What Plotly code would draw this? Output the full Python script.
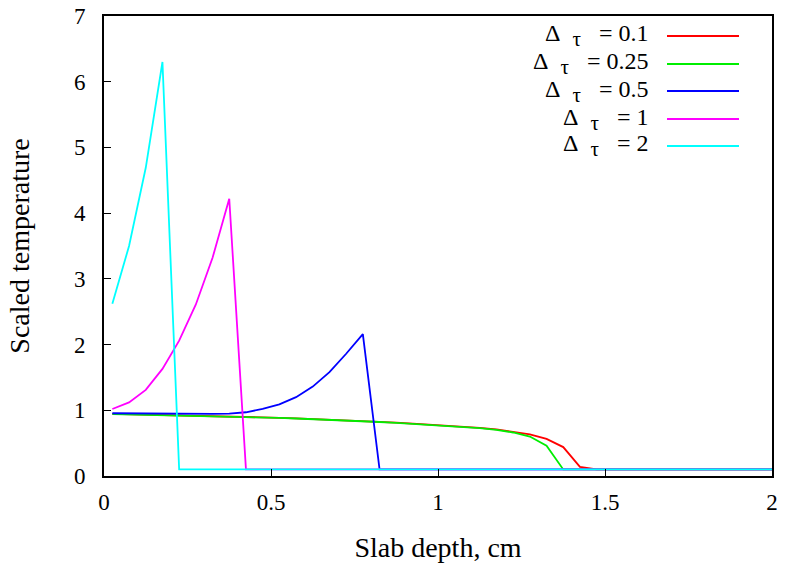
import plotly.graph_objects as go

# Slab depth grid (cm) and scaled temperature for each Delta tau
depth_01 = [0.025, 0.075, 0.125, 0.175, 0.225, 0.275, 0.325, 0.375, 0.425, 0.475,
            0.525, 0.575, 0.625, 0.675, 0.725, 0.775, 0.825, 0.875, 0.925, 0.975,
            1.025, 1.075, 1.125, 1.175, 1.225, 1.275, 1.325, 1.375, 1.425, 1.475, 2.0]
temp_01 = [0.945, 0.94, 0.935, 0.93, 0.925, 0.92, 0.915, 0.91, 0.902, 0.895,
           0.886, 0.877, 0.868, 0.858, 0.848, 0.837, 0.825, 0.812, 0.798, 0.783,
           0.768, 0.752, 0.733, 0.71, 0.677, 0.635, 0.565, 0.44, 0.14, 0.1, 0.1]

depth_025 = [0.025, 0.075, 0.125, 0.175, 0.225, 0.275, 0.325, 0.375, 0.425, 0.475,
             0.525, 0.575, 0.625, 0.675, 0.725, 0.775, 0.825, 0.875, 0.925, 0.975,
             1.025, 1.075, 1.125, 1.175, 1.225, 1.275, 1.325, 1.375, 2.0]
temp_025 = [0.943, 0.938, 0.933, 0.928, 0.923, 0.918, 0.913, 0.907, 0.9, 0.893,
            0.884, 0.875, 0.866, 0.856, 0.846, 0.835, 0.822, 0.809, 0.795, 0.78,
            0.764, 0.747, 0.728, 0.703, 0.662, 0.6, 0.46, 0.1, 0.1]

depth_05 = [0.025, 0.075, 0.125, 0.175, 0.225, 0.275, 0.325, 0.375, 0.425, 0.475,
            0.525, 0.575, 0.625, 0.675, 0.725, 0.775, 0.825, 2.0]
temp_05 = [0.955, 0.952, 0.95, 0.948, 0.946, 0.945, 0.945, 0.95, 0.97, 1.02,
           1.09, 1.2, 1.36, 1.58, 1.86, 2.16, 0.1, 0.1]

depth_1 = [0.025, 0.075, 0.125, 0.175, 0.225, 0.275, 0.325, 0.375, 0.425, 2.0]
temp_1 = [1.02, 1.12, 1.31, 1.63, 2.06, 2.61, 3.32, 4.22, 0.1, 0.1]

depth_2 = [0.025, 0.075, 0.125, 0.175, 0.225, 2.0]
temp_2 = [2.62, 3.5, 4.69, 6.3, 0.1, 0.1]

labels = ["0.1", "0.25", "0.5", "1", "2"]
colors = ["#ff0000", "#00ee00", "#0000ff", "#ff00ff", "#00ffff"]
series = [(depth_01, temp_01), (depth_025, temp_025), (depth_05, temp_05),
          (depth_1, temp_1), (depth_2, temp_2)]

FONT = "Liberation Serif, Times New Roman, serif"

fig = go.Figure()
for (x, y), lab, col in zip(series, labels, colors):
    fig.add_trace(go.Scatter(x=x, y=y, mode="lines", name=lab,
                             line=dict(color=col, width=1.8), showlegend=False))

# gnuplot-style legend: right-aligned text followed by line sample
W, H = 785, 563
L, R, T, B = 104, 13, 16, 87
pw, ph = W - L - R, H - T - B
row_y = [36, 64, 91, 119, 146]
for i, (lab, col) in enumerate(zip(labels, colors)):
    yp = 1 - (row_y[i] - T) / ph
    fig.add_annotation(xref="paper", yref="paper", x=(650 - L) / pw, y=yp,
                       xanchor="right", yanchor="middle", showarrow=False,
                       text="Δ&nbsp;&nbsp;<sub><span style='font-size:21px'>τ</span></sub>&nbsp;&nbsp;&nbsp;= " + lab,
                       font=dict(family=FONT, size=24, color="black"))
    fig.add_shape(type="line", xref="paper", yref="paper",
                  x0=(667 - L) / pw, x1=(739 - L) / pw, y0=yp, y1=yp,
                  line=dict(color=col, width=1.8))

fig.update_layout(
    width=W, height=H,
    margin=dict(l=L, r=R, t=T, b=B, autoexpand=False),
    plot_bgcolor="white", paper_bgcolor="white",
    font=dict(family=FONT, size=23, color="black"),
    xaxis=dict(range=[0, 2], tickvals=[0, 0.5, 1, 1.5, 2],
               ticktext=["0", "0.5", "1", "1.5", "2"],
               ticks="inside", ticklen=7, tickcolor="black",
               ticklabelstandoff=4, automargin=False,
               showline=True, linecolor="black", linewidth=2, mirror=True,
               showgrid=False, zeroline=False,
               title=dict(text="Slab depth, cm", standoff=26)),
    yaxis=dict(range=[0, 7], tickvals=[0, 1, 2, 3, 4, 5, 6, 7],
               ticks="inside", ticklen=7, tickcolor="black",
               ticklabelstandoff=12, automargin=False,
               showline=True, linecolor="black", linewidth=2, mirror=True,
               showgrid=False, zeroline=False,
               title=dict(text="Scaled temperature", standoff=36)),
)

fig.write_html("out.html")
